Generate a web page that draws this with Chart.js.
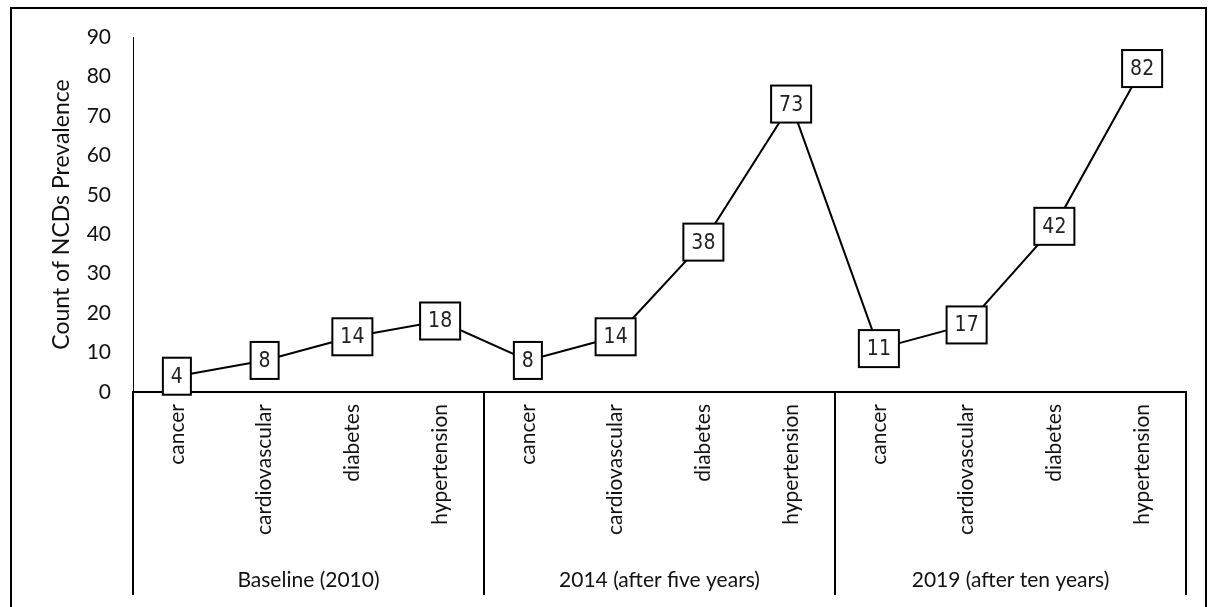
<!DOCTYPE html>
<html>
<head>
<meta charset="utf-8">
<script src="https://cdn.jsdelivr.net/npm/chart.js@4.4.1/dist/chart.umd.min.js"></script>
<style>
  html, body { margin: 0; padding: 0; background: #fff; }
  #wrap { width: 1216px; height: 607px; }
</style>
</head>
<body>
<div id="wrap"><canvas id="c"></canvas></div>
<script>
const DISEASES = ['cancer', 'cardiovascular', 'diabetes', 'hypertension']
const GROUPS = ['Baseline (2010)', '2014 (after five years)', '2019 (after ten years)']
const CATEGORIES = GROUPS.flatMap(() => DISEASES)
const COUNTS = [4, 8, 14, 18, 8, 14, 38, 73, 11, 17, 42, 82]
const Y_MIN = 0
const Y_MAX = 90
const Y_STEP = 10

const AXIS_FONT = { size: 21, family: "Lato, 'Open Sans', sans-serif" }
const LABEL_FONT = "21px 'DejaVu Sans Condensed', 'DejaVu Sans', sans-serif"
const INK = '#111'

// outer frame round the whole figure
const framePlugin = {
  id: 'frame',
  beforeDraw (chart) {
    const { ctx, width, height } = chart
    ctx.save()
    ctx.fillStyle = '#fff'; ctx.fillRect(0, 0, width, height)
    ctx.strokeStyle = '#000'; ctx.lineWidth = 2
    ctx.strokeRect(11, 8, 1195, height + 20)
    ctx.restore()
  }
}

// group separators and group names under the rotated labels
const groupPlugin = {
  id: 'groups',
  afterDraw (chart) {
    const { ctx, chartArea } = chart
    const xs = chart.scales.x
    const half = (xs.getPixelForValue(1) - xs.getPixelForValue(0)) / 2
    const n = DISEASES.length
    ctx.save()
    ctx.strokeStyle = '#000'; ctx.lineWidth = 2
    ctx.fillStyle = INK
    ctx.font = AXIS_FONT.size + 'px ' + AXIS_FONT.family
    ctx.textAlign = 'center'; ctx.textBaseline = 'middle'
    GROUPS.forEach((g, i) => {
      const x0 = xs.getPixelForValue(i * n) - half
      const x1 = xs.getPixelForValue(i * n + n - 1) + half
      ctx.beginPath()
      ctx.moveTo(x0, chartArea.bottom); ctx.lineTo(x0, 595)
      if (i === GROUPS.length - 1) { ctx.moveTo(x1, chartArea.bottom); ctx.lineTo(x1, 595) }
      ctx.stroke()
      ctx.fillText(g, (x0 + x1) / 2, 580)
    })
    ctx.restore()
  }
}

// boxed value labels on the points
const boxPlugin = {
  id: 'boxes',
  afterDatasetsDraw (chart) {
    const { ctx } = chart
    const meta = chart.getDatasetMeta(0)
    ctx.save()
    ctx.font = LABEL_FONT
    ctx.textAlign = 'center'; ctx.textBaseline = 'middle'
    meta.data.forEach((pt, i) => {
      const txt = '' + COUNTS[i]
      const w = ctx.measureText(txt).width + 16
      const h = 37
      ctx.fillStyle = '#fff'
      ctx.fillRect(pt.x - w / 2, pt.y - h / 2, w, h)
      ctx.strokeStyle = '#000'; ctx.lineWidth = 2
      ctx.strokeRect(pt.x - w / 2, pt.y - h / 2, w, h)
      ctx.fillStyle = '#222'
      ctx.fillText(txt, pt.x, pt.y + 1)
    })
    ctx.restore()
  }
}

new Chart(document.getElementById('c'), {
  type: 'line',
  data: {
    labels: CATEGORIES,
    datasets: [{
      data: COUNTS,
      borderColor: '#000',
      borderWidth: 2,
      tension: 0,
      pointRadius: 0,
      pointHoverRadius: 0,
      clip: false
    }]
  },
  options: {
    responsive: true, maintainAspectRatio: false, animation: false,
    layout: { padding: { top: 37, right: 30, bottom: 0, left: 0 } },
    plugins: { legend: { display: false }, tooltip: { enabled: false } },
    scales: {
      x: {
        offset: true,
        grid: { display: false, drawTicks: false },
        border: { display: true, color: '#000', width: 2 },
        ticks: { color: INK, font: AXIS_FONT, autoSkip: false, minRotation: 90, maxRotation: 90, padding: 12 },
        afterFit (s) { s.height = 215 }
      },
      y: {
        min: Y_MIN, max: Y_MAX,
        grid: { display: false, drawTicks: false },
        border: { display: true, color: '#000', width: 1 },
        ticks: { stepSize: Y_STEP, color: INK, font: AXIS_FONT, padding: 22 },
        title: { display: true, text: 'Count of NCDs Prevalence', color: INK, font: { size: 23, family: AXIS_FONT.family }, padding: { top: 48, bottom: 0 } },
        afterFit (s) { s.width = 133 }
      }
    }
  },
  plugins: [framePlugin, groupPlugin, boxPlugin]
})
</script>
</body>
</html>
